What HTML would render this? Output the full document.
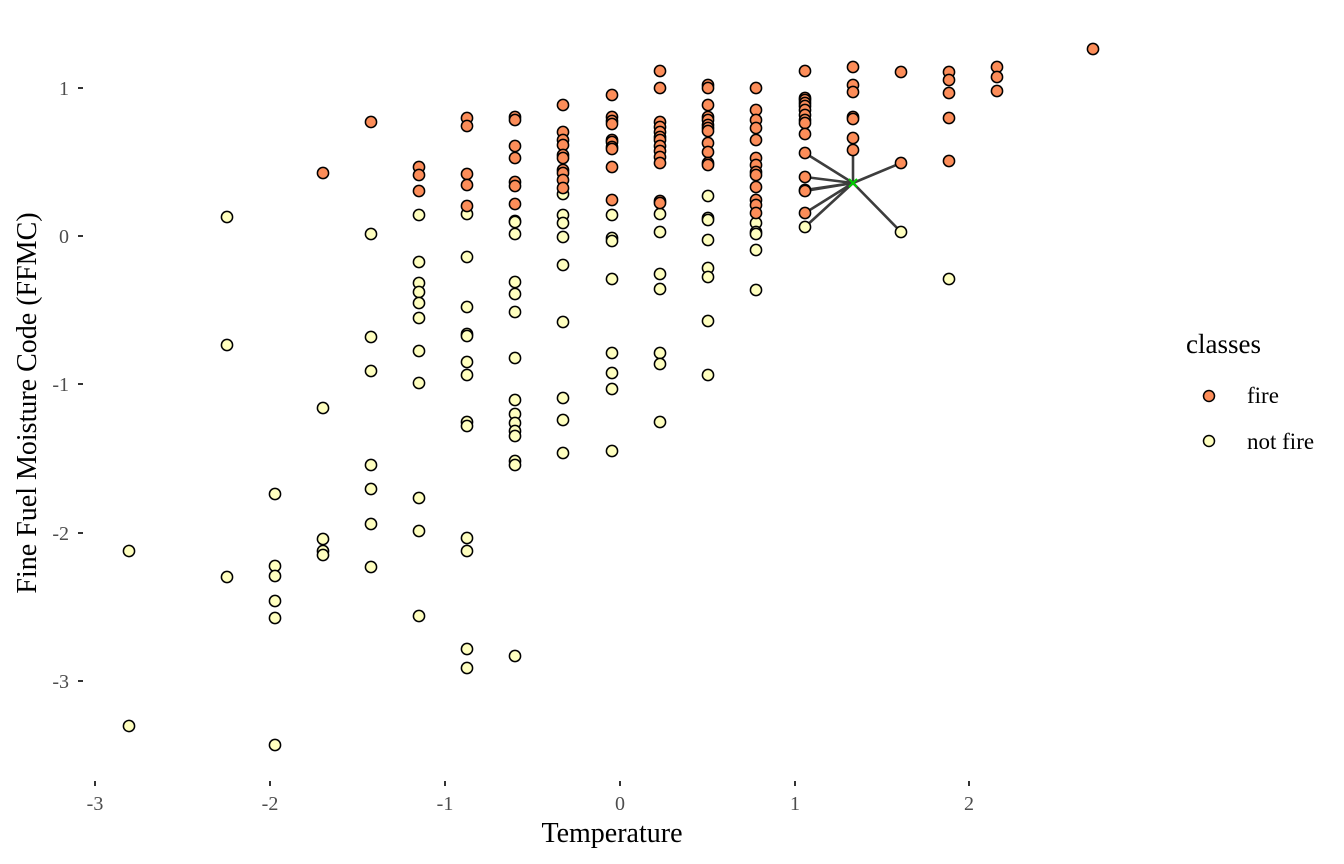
<!DOCTYPE html>
<html><head><meta charset="utf-8"><style>html,body{margin:0;padding:0;background:#fff}svg{display:block}</style></head>
<body>
<svg id="s" width="1344" height="864" xmlns="http://www.w3.org/2000/svg" font-family="Liberation Serif, serif">
<g stroke="#333" stroke-width="2">
<line x1="78" y1="88" x2="83" y2="88"/><line x1="78" y1="236" x2="83" y2="236"/><line x1="78" y1="384" x2="83" y2="384"/><line x1="78" y1="533" x2="83" y2="533"/><line x1="78" y1="681" x2="83" y2="681"/>
<line x1="95" y1="781" x2="95" y2="786"/><line x1="270" y1="781" x2="270" y2="786"/><line x1="445" y1="781" x2="445" y2="786"/><line x1="620" y1="781" x2="620" y2="786"/><line x1="795" y1="781" x2="795" y2="786"/><line x1="969" y1="781" x2="969" y2="786"/>
</g>
<g fill="#4d4d4d" font-size="20" text-anchor="end">
<text x="69" y="95">1</text><text x="69" y="243">0</text><text x="69" y="391">-1</text><text x="69" y="540">-2</text><text x="69" y="688">-3</text>
</g>
<g fill="#4d4d4d" font-size="20" text-anchor="middle">
<text x="95" y="810">-3</text><text x="270" y="810">-2</text><text x="445" y="810">-1</text><text x="620" y="810">0</text><text x="795" y="810">1</text><text x="969" y="810">2</text>
</g>
<text x="612" y="842" font-size="28" text-anchor="middle">Temperature</text>
<text transform="translate(36,403) rotate(-90)" font-size="28" text-anchor="middle">Fine Fuel Moisture Code (FFMC)</text>
<g stroke="#333" stroke-width="2.6" opacity="0.95">
<line x1="853" y1="183" x2="805" y2="153"/><line x1="853" y1="183" x2="805" y2="177"/><line x1="853" y1="183" x2="805" y2="190"/><line x1="853" y1="183" x2="805" y2="191"/><line x1="853" y1="183" x2="805" y2="213"/><line x1="853" y1="183" x2="805" y2="227"/><line x1="853" y1="183" x2="853" y2="150"/><line x1="853" y1="183" x2="901" y2="163"/><line x1="853" y1="183" x2="901" y2="232"/>
</g>
<g id="pts" stroke="#000" stroke-width="1.5"></g>
<text x="1186" y="353" font-size="27">classes</text>
<circle cx="1209" cy="396" r="5.5" fill="#FC8D59" stroke="#000" stroke-width="1.5"/>
<circle cx="1209" cy="441" r="5.5" fill="#FFFFBF" stroke="#000" stroke-width="1.5"/>
<text x="1247" y="403" font-size="23">fire</text>
<text x="1247" y="449" font-size="23">not fire</text>
</svg>
<script>
var O=[[323,[173]],[371,[122]],[419,[167,175,191]],[467,[118,126,174,185,206]],[515,[117,120,146,158,182,186,204]],
[563,[105,132,140,145,155,158,170,173,180,188]],[612,[95,117,121,124,140,142,147,149,167,200]],
[660,[71,88,122,127,132,137,140,146,151,157,163,201,203]],[708,[85,88,105,117,120,125,128,131,143,152,163,165]],
[756,[88,110,120,128,140,158,165,172,175,187,200,205,213]],[805,[71,98,100,103,106,110,115,120,123,134,153,177,190,191,213]],
[853,[67,85,92,117,119,138,150]],[901,[72,163]],[949,[72,80,93,118,161]],[997,[67,77,91]],[1093,[49]]];
var Y=[[129,[551,726]],[227,[217,345,577]],[275,[494,566,576,601,618,745]],[323,[408,539,551,555]],
[371,[234,337,371,465,489,524,567]],[419,[215,262,283,292,303,318,351,383,498,531,616]],
[467,[214,257,307,334,336,362,375,422,426,538,551,649,668]],[515,[221,222,234,282,294,312,358,400,414,423,431,436,461,465,656]],
[563,[194,215,223,237,265,322,398,420,453]],[612,[215,238,241,279,353,373,389,451]],
[660,[214,232,274,289,353,364,422]],[708,[196,218,220,240,268,277,321,375]],
[756,[223,232,234,250,290]],[805,[227]],[901,[232]],[949,[279]]];
var g=document.getElementById('pts'),h='';
function add(a,c){a.forEach(function(p){p[1].forEach(function(y){h+='<circle cx="'+p[0]+'" cy="'+y+'" r="5.6" fill="'+c+'"/>';});});}
add(Y,'#FFFFBF');add(O,'#FC8D59');
h+='<g stroke="#0c0" stroke-width="2"><line x1="849" y1="179" x2="857" y2="187"/><line x1="849" y1="187" x2="857" y2="179"/></g>';
g.innerHTML=h;
</script>
</body></html>
